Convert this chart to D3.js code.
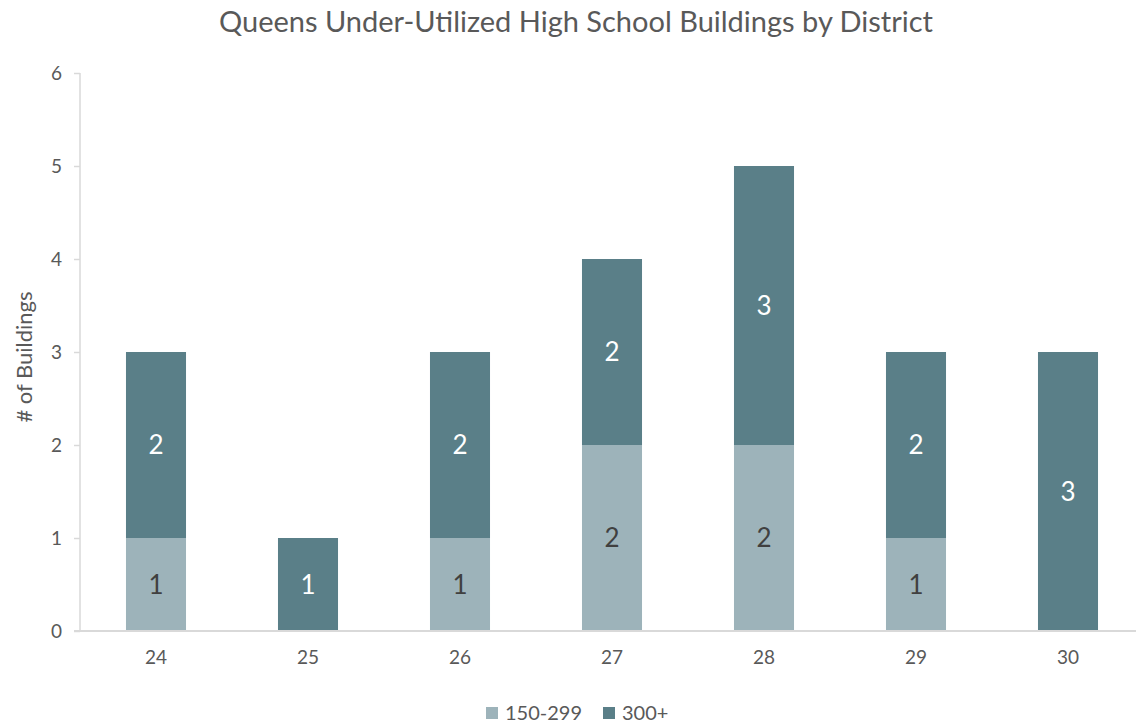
<!DOCTYPE html>
<html>
<head>
<meta charset="utf-8">
<script src="https://cdn.jsdelivr.net/npm/d3@7"></script>
<style>
  body { margin: 0; background: #fff; }
  text { font-family: Lato, "Open Sans", sans-serif; fill: #595959; }
</style>
</head>
<body>
<svg id="chart" width="1136" height="725"></svg>
<script>
// Data
const districts = ['24', '25', '26', '27', '28', '29', '30'];
const mid = [1, 0, 1, 2, 2, 1, 0];     // 150-299
const large = [2, 1, 2, 2, 3, 2, 3];   // 300+
const seriesNames = ['150-299', '300+'];
const yTicks = [0, 1, 2, 3, 4, 5, 6];

const colors = { '150-299': '#9db3ba', '300+': '#5a7f88' };

const svg = d3.select('#chart');
const plotLeft = 80, plotRight = 1144, plotTop = 73, plotBottom = 631;

const rows = districts.map((d, i) => ({ district: d, '150-299': mid[i], '300+': large[i] }));
const stacked = d3.stack().keys(seriesNames)(rows);

const x = d3.scaleBand()
  .domain(districts)
  .range([plotLeft, plotRight])
  .paddingInner(0.605)
  .paddingOuter(0.3025);

const y = d3.scaleLinear()
  .domain([0, 6])
  .range([plotBottom, plotTop]);

// Title
svg.append('text')
  .attr('x', 576)
  .attr('y', 32)
  .attr('text-anchor', 'middle')
  .style('font-size', '29px')
  .text('Queens Under-Utilized High School Buildings by District');

// Y axis
const yAxis = svg.append('g')
  .attr('transform', 'translate(' + plotLeft + ',0)')
  .call(d3.axisLeft(y).tickValues(yTicks).tickSize(6).tickPadding(12).tickFormat(d3.format('d')));
yAxis.select('.domain').attr('stroke', '#d9d9d9').attr('stroke-width', 1.5).attr('d', 'M0,' + plotTop + 'V' + plotBottom);
yAxis.selectAll('.tick line').attr('stroke', '#d9d9d9').attr('stroke-width', 1.5);
yAxis.selectAll('.tick text').style('font-size', '19px').attr('fill', '#595959');

// Bars
const layers = svg.append('g').selectAll('g')
  .data(stacked)
  .enter()
  .append('g')
  .attr('fill', d => colors[d.key]);

layers.selectAll('rect')
  .data(d => d)
  .enter()
  .append('rect')
  .attr('x', d => x(d.data.district))
  .attr('y', d => y(d[1]))
  .attr('width', x.bandwidth())
  .attr('height', d => y(d[0]) - y(d[1]));

// Bar labels
stacked.forEach(layer => {
  svg.append('g').selectAll('text')
    .data(layer.filter(d => d[1] - d[0] > 0))
    .enter()
    .append('text')
    .attr('x', d => x(d.data.district) + x.bandwidth() / 2)
    .attr('y', d => (y(d[0]) + y(d[1])) / 2)
    .attr('dy', '0.35em')
    .attr('text-anchor', 'middle')
    .style('font-size', '26px')
    .style('fill', layer.key === '300+' ? '#ffffff' : '#404040')
    .text(d => d[1] - d[0]);
});

// X axis
const xAxis = svg.append('g')
  .attr('transform', 'translate(0,' + plotBottom + ')')
  .call(d3.axisBottom(x).tickSize(0).tickPadding(20));
xAxis.select('.domain').attr('stroke', '#d9d9d9').attr('stroke-width', 2).attr('d', 'M' + (plotLeft - 6) + ',0H' + plotRight);
xAxis.selectAll('.tick text').style('font-size', '19px').attr('fill', '#595959');

// Y axis title
svg.append('text')
  .attr('transform', 'translate(32,357) rotate(-90)')
  .attr('text-anchor', 'middle')
  .style('font-size', '22px')
  .text('# of Buildings');

// Legend
const legendX = [486, 603];
const legend = svg.append('g').selectAll('g')
  .data(seriesNames)
  .enter()
  .append('g')
  .attr('transform', (d, i) => 'translate(' + legendX[i] + ',706)');
legend.append('rect')
  .attr('width', 12)
  .attr('height', 12)
  .attr('y', 1)
  .attr('fill', d => colors[d]);
legend.append('text')
  .attr('x', 19)
  .attr('y', 7)
  .attr('dy', '0.35em')
  .style('font-size', '20px')
  .text(d => d);
</script>
</body>
</html>
